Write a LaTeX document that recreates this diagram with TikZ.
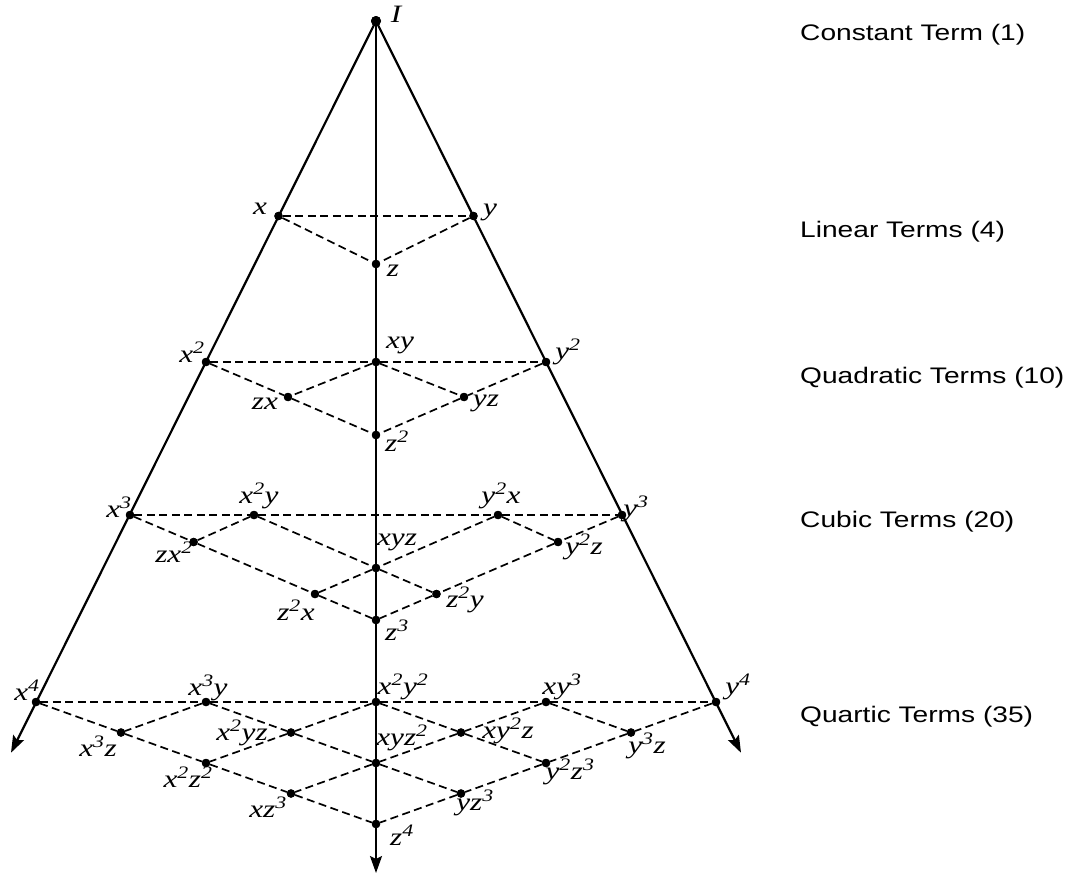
\documentclass[tikz,border=0pt]{standalone}
\usepackage{fontspec}
\usetikzlibrary{arrows.meta}
\newfontfamily\labfont{Liberation Serif}[FakeStretch=1.25]
\newfontfamily\sidefont{Liberation Sans}[FakeStretch=1.25]
\newcommand\spw[1]{\textsuperscript{#1}}
\tikzset{
  pt/.style={circle,fill=black,inner sep=0pt,minimum size=8.4pt},
  bigpt/.style={circle,fill=black,inner sep=0pt,minimum size=10pt},
  axis/.style={line width=2.2pt,-{Stealth[length=17pt,width=12pt,inset=3pt]}},
  dsh/.style={line width=1.7pt,dash pattern=on 8pt off 4.5pt},
  lab/.style={inner sep=0pt,font=\labfont\itshape\fontsize{25}{25}\selectfont},
  side/.style={inner sep=0pt,anchor=west,font=\sidefont\fontsize{22.5}{26}\selectfont}
}
\begin{document}
\begin{tikzpicture}[x=1pt,y=-1pt]
\useasboundingbox (0,0) rectangle (1072,879);
% points
\node[bigpt] (n0) at (376,21) {};
\node[pt] (x) at (278.5,216) {};
\node[pt] (y) at (473.5,216) {};
\node[pt] (z) at (376,264) {};
\node[pt] (xx) at (206,362) {};
\node[pt] (xy) at (376,362) {};
\node[pt] (yy) at (546,362) {};
\node[pt] (zx) at (288,397) {};
\node[pt] (yz) at (464,397) {};
\node[pt] (zz) at (376,435) {};
\node[pt] (xxx) at (130,515) {};
\node[pt] (xxy) at (254,515) {};
\node[pt] (yyx) at (498,515) {};
\node[pt] (yyy) at (622,515) {};
\node[pt] (zxx) at (193.6,542) {};
\node[pt] (xyz) at (376,568) {};
\node[pt] (yyz) at (558,542) {};
\node[pt] (zzx) at (315,594) {};
\node[pt] (zzy) at (436.5,594) {};
\node[pt] (zzz) at (376,620) {};
\node[pt] (a40) at (36,702) {};
\node[pt] (a31) at (206,702) {};
\node[pt] (a22) at (376,702) {};
\node[pt] (a13) at (546,702) {};
\node[pt] (a04) at (716,702) {};
\node[pt] (b30) at (121,732.5) {};
\node[pt] (b21) at (291,732.5) {};
\node[pt] (b12) at (461,732.5) {};
\node[pt] (b03) at (631,732.5) {};
\node[pt] (c20) at (206,763) {};
\node[pt] (c11) at (376,763) {};
\node[pt] (c02) at (546,763) {};
\node[pt] (d10) at (291,793.5) {};
\node[pt] (d01) at (461,793.5) {};
\node[pt] (e00) at (376,824) {};
\coordinate (Lend) at (11,752.7);
\coordinate (Rend) at (741,752.7);
\coordinate (Cend) at (376,873);
% axes
\draw[axis] (n0.center) -- (Lend);
\draw[axis] (n0.center) -- (Rend);
\draw[axis] (n0.center) -- (Cend);
% level 1
\draw[dsh] (x) -- (y);
\draw[dsh] (x) -- (z);
\draw[dsh] (y) -- (z);
% level 2
\draw[dsh] (xx) -- (xy) -- (yy);
\draw[dsh] (xx) -- (zx) -- (zz);
\draw[dsh] (yy) -- (yz) -- (zz);
\draw[dsh] (xy) -- (zx);
\draw[dsh] (xy) -- (yz);
% level 3
\draw[dsh] (xxx) -- (xxy) -- (yyx) -- (yyy);
\draw[dsh] (xxx) -- (zxx) -- (zzx) -- (zzz);
\draw[dsh] (yyy) -- (yyz) -- (zzy) -- (zzz);
\draw[dsh] (xxy) -- (xyz) -- (zzy);
\draw[dsh] (yyx) -- (xyz) -- (zzx);
\draw[dsh] (xxy) -- (zxx);
\draw[dsh] (yyx) -- (yyz);
% level 4
\draw[dsh] (a40) -- (a31) -- (a22) -- (a13) -- (a04);
\draw[dsh] (a40) -- (b30) -- (c20) -- (d10) -- (e00);
\draw[dsh] (a31) -- (b21) -- (c11) -- (d01);
\draw[dsh] (a22) -- (b12) -- (c02);
\draw[dsh] (a13) -- (b03);
\draw[dsh] (a04) -- (b03) -- (c02) -- (d01) -- (e00);
\draw[dsh] (a13) -- (b12) -- (c11) -- (d10);
\draw[dsh] (a22) -- (b21) -- (c20);
\draw[dsh] (a31) -- (b30);
% redraw dots on top
\foreach \n in {x,y,z,xx,xy,yy,zx,yz,zz,xxx,xxy,yyx,yyy,zxx,xyz,yyz,zzx,zzy,zzz,a40,a31,a22,a13,a04,b30,b21,b12,b03,c20,c11,c02,d10,d01,e00}
  \fill (\n.center) circle (4.2pt);
\fill (n0.center) circle (5pt);
% labels
\node[lab] (l0) at (396,14) {I};
\node[lab] (lx) at (260,209) {x};
\node[lab] (ly) at (490,212) {y};
\node[lab] (lz) at (393,271) {z};
\node[lab] (lxx) at (192,352) {x\spw{2}};
\node[lab] (lxy) at (400,345) {xy};
\node[lab] (lyy) at (568,352) {y\spw{2}};
\node[lab] (lzx) at (265,404) {zx};
\node[lab] (lyz) at (486,403) {yz};
\node[lab] (lzz) at (397,441) {z\spw{2}};
\node[lab] (lxxx) at (119,507) {x\spw{3}};
\node[lab] (lxxy) at (259,496) {x\spw{2}y};
\node[lab] (lyyx) at (501,496) {y\spw{2}x};
\node[lab] (lyyy) at (636,509) {y\spw{3}};
\node[lab] (lzxx) at (174,552) {zx\spw{2}};
\node[lab] (lxyz) at (397,542) {xyz};
\node[lab] (lyyz) at (584,547) {y\spw{2}z};
\node[lab] (lzzx) at (296,610) {z\spw{2}x};
\node[lab] (lzzy) at (465,600) {z\spw{2}y};
\node[lab] (lzzz) at (397,630) {z\spw{3}};
\node[lab] (la40) at (27,690) {x\spw{4}};
\node[lab] (la31) at (208,688) {x\spw{3}y};
\node[lab] (la22) at (403,687) {x\spw{2}y\spw{2}};
\node[lab] (la13) at (562,687) {xy\spw{3}};
\node[lab] (la04) at (738,687) {y\spw{4}};
\node[lab] (lb30) at (98,746) {x\spw{3}z};
\node[lab] (lb21) at (242,733) {x\spw{2}yz};
\node[lab] (lb12) at (508,731) {xy\spw{2}z};
\node[lab] (lb03) at (647,746) {y\spw{3}z};
\node[lab] (lc20) at (188,777) {x\spw{2}z\spw{2}};
\node[lab] (lc11) at (402,738) {xyz\spw{2}};
\node[lab] (lc02) at (570,772) {y\spw{2}z\spw{3}};
\node[lab] (ld10) at (268,807) {xz\spw{3}};
\node[lab] (ld01) at (475,803) {yz\spw{3}};
\node[lab] (le00) at (402,835) {z\spw{4}};
% side labels
\node[side] (s0) at (800,35) {Constant Term (1)};
\node[side] (s1) at (800,232) {Linear Terms (4)};
\node[side] (s2) at (800,378) {Quadratic Terms (10)};
\node[side] (s3) at (800,522) {Cubic Terms (20)};
\node[side] (s4) at (800,717) {Quartic Terms (35)};
\end{tikzpicture}
\end{document}
